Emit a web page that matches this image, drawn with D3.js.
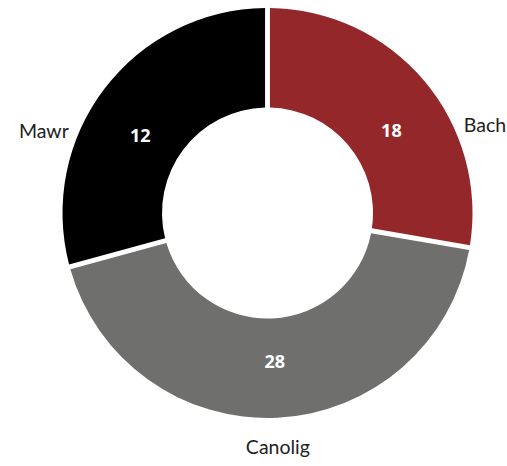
<!DOCTYPE html>
<html>
<head>
<meta charset="utf-8">
<script src="https://cdn.jsdelivr.net/npm/d3@7"></script>
<style>
  html, body { margin: 0; padding: 0; background: #fff; }
  svg { display: block; }
</style>
</head>
<body>
<svg id="chart" width="507" height="466"></svg>
<script>
// ---- data ----
const categories = ["Bach", "Canolig", "Mawr"];
const values = [18, 28, 12];            // numbers printed on the slices
const arcWeights = [18, 28, 19];
const colors = ["#94272a", "#6f6f6e", "#000000"];

// ---- layout ----
const cx = 267.5, cy = 213;
const outerR = 205, innerR = 105.5;

const svg = d3.select("#chart");
const g = svg.append("g").attr("transform", `translate(${cx},${cy})`);

const rows = categories.map((c, i) => ({ cat: c, value: values[i], weight: arcWeights[i], color: colors[i] }));

const pie = d3.pie().sort(null).value(d => d.weight).startAngle(0).endAngle(2 * Math.PI);
const arcs = pie(rows);

const arc = d3.arc().innerRadius(innerR).outerRadius(outerR).padAngle(0.021);

g.selectAll("path.slice")
  .data(arcs)
  .enter().append("path")
  .attr("class", "slice")
  .attr("d", arc)
  .attr("fill", d => d.data.color);

// label angle: side labels are pulled toward the horizontal
function labelAngle(d, k) {
  const mid = (d.startAngle + d.endAngle) / 2;
  if (Math.abs(Math.sin(mid)) > 0.7) {
    const h = Math.sin(mid) > 0 ? Math.PI / 2 : 3 * Math.PI / 2;
    return h + (mid - h) * k;
  }
  return mid;
}
function polar(a, r) { return [Math.sin(a) * r, -Math.cos(a) * r]; }
function isSide(a) { return Math.abs(Math.sin(a)) > 0.7; }

// value labels
g.selectAll("text.val")
  .data(arcs)
  .enter().append("text")
  .attr("class", "val")
  .attr("transform", d => { const p = polar(labelAngle(d, 0.84), 149); return `translate(${p[0]},${p[1]})`; })
  .attr("text-anchor", "middle")
  .attr("dy", "0.36em")
  .attr("fill", "#ffffff")
  .style("font-family", "'Open Sans', 'Noto Sans', sans-serif")
  .style("font-weight", "700")
  .style("font-size", "18px")
  .text(d => d.data.value);

// category labels
g.selectAll("text.cat")
  .data(arcs)
  .enter().append("text")
  .attr("class", "cat")
  .each(function (d) {
    const a = labelAngle(d, 0.6);
    const p = polar(a, 215);
    const el = d3.select(this).attr("transform", `translate(${p[0]},${p[1]})`);
    if (isSide(a)) {
      el.attr("text-anchor", Math.sin(a) > 0 ? "start" : "end").attr("dy", "0.36em");
    } else {
      el.attr("text-anchor", "middle").attr("dy", Math.cos(a) < 0 ? "1.35em" : "-0.4em");
    }
  })
  .attr("fill", "#222222")
  .style("font-family", "Lato, 'Open Sans', sans-serif")
  .style("font-size", "19.5px")
  .text(d => d.data.cat);
</script>
</body>
</html>
